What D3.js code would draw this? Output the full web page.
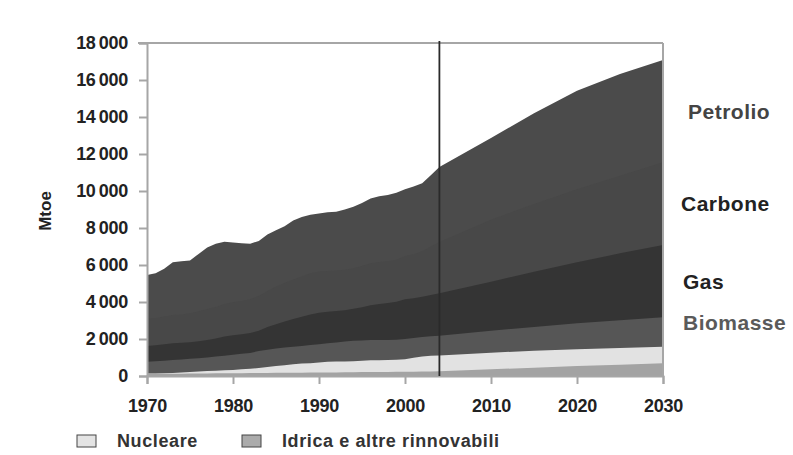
<!DOCTYPE html>
<html><head><meta charset="utf-8">
<script src="https://cdn.jsdelivr.net/npm/d3@7/dist/d3.min.js"></script>
<style>
body{margin:0;background:#fff}
svg{display:block;font-family:"Liberation Sans",Arial,Helvetica,sans-serif}
</style>
</head><body>
<svg id="chart" width="793" height="455"></svg>
<script>
// ---- Data (Mtoe) ----
const years = [1970,1971,1972,1973,1974,1975,1976,1977,1978,1979,
  1980,1981,1982,1983,1984,1985,1986,1987,1988,1989,
  1990,1991,1992,1993,1994,1995,1996,1997,1998,1999,
  2000,2001,2002,2003,2004,2010,2015,2020,2025,2030];
const idrica = [110,113,117,121,127,130,132,136,142,146,
  150,154,158,164,168,172,175,178,182,184,
  188,192,194,200,203,210,214,218,222,226,
  232,234,240,250,260,360,450,540,610,690];
const nucleare = [20,27,33,44,63,90,108,129,148,159,
  180,216,237,266,312,373,410,452,488,506,
  545,575,585,590,597,610,631,632,643,659,
  668,746,820,840,850,900,910,910,910,895];
const biomasse = [645,660,680,695,705,710,720,735,760,795,
  820,830,855,920,940,935,955,950,950,990,
  987,1003,1031,1070,1100,1100,1095,1100,1085,1075,
  1100,1070,1050,1060,1060,1190,1290,1400,1490,1585];
const gas = [845,860,880,910,905,900,920,950,980,1030,
  1050,1060,1070,1100,1230,1320,1410,1500,1580,1650,
  1700,1700,1710,1700,1740,1800,1890,1940,1990,2050,
  2150,2150,2180,2230,2300,2650,2990,3300,3620,3910];
const carbone = [1480,1470,1500,1530,1530,1560,1620,1670,1700,1760,
  1790,1800,1830,1870,1950,2040,2080,2140,2190,2220,
  2230,2200,2180,2180,2190,2220,2260,2270,2260,2280,
  2340,2380,2450,2620,2780,3350,3660,3950,4200,4470];
const petrolio = [2360,2430,2590,2850,2870,2860,3100,3330,3420,3370,
  3230,3110,3000,2980,3050,3040,3070,3180,3210,3170,
  3130,3180,3180,3260,3320,3410,3510,3560,3580,3610,
  3610,3670,3680,3850,4050,4420,4900,5320,5500,5530];

const seriesKeys = ["idrica","nucleare","biomasse","gas","carbone","petrolio"];
const seriesLabels = ["Idrica e altre rinnovabili","Nucleare","Biomasse","Gas","Carbone","Petrolio"];
const yTicks = [0,2000,4000,6000,8000,10000,12000,14000,16000,18000];
const xTicks = [1970,1980,1990,2000,2010,2020,2030];
const markerYear = 2004;
const yAxisTitle = "Mtoe";

// ---- Build ----
const colors = {idrica:"#a3a3a3", nucleare:"#e2e2e2", biomasse:"#565656",
  gas:"#343434", carbone:"#484848", petrolio:"#4b4b4b"};

const table = years.map((yr,i)=>({year:yr, idrica:idrica[i], nucleare:nucleare[i],
  biomasse:biomasse[i], gas:gas[i], carbone:carbone[i], petrolio:petrolio[i]}));
const stacked = d3.stack().keys(seriesKeys)(table);

const svg = d3.select("#chart");
const x = d3.scaleLinear().domain([1970,2030]).range([147,663]);
const y = d3.scaleLinear().domain([0,18000]).range([376,43]);

// painter's order: each layer drawn from the baseline to its stacked top, top layer first (no seams)
const area = d3.area().x(d=>x(d.data.year)).y0(y(0)).y1(d=>y(d[1]));
svg.append("g").selectAll("path").data(stacked.slice().reverse()).join("path")
  .attr("d", area).attr("fill", d=>colors[d.key]);

const locale = d3.formatLocale({decimal:",", thousands:"\u2009", grouping:[3], currency:["","€"]});
const fmt = locale.format(",");

const axisColor = "#a6a6a6";
// Y axis
const yAxis = svg.append("g").attr("transform","translate(147,0)")
  .call(d3.axisLeft(y).tickValues(yTicks).tickSize(8).tickPadding(11).tickFormat(d=>fmt(d)));
yAxis.select(".domain").attr("stroke",axisColor).attr("stroke-width",2);
yAxis.selectAll(".tick line").attr("stroke",axisColor).attr("stroke-width",2);
yAxis.selectAll(".tick text").attr("fill","#222").attr("font-size",18).attr("font-weight","bold")
  .attr("letter-spacing","-0.3px").attr("font-family","'Liberation Sans',Arial,sans-serif");

// X axis
const xAxis = svg.append("g").attr("transform","translate(0,376)")
  .call(d3.axisBottom(x).tickValues(xTicks).tickSize(8).tickPadding(15).tickFormat(d3.format("d")));
xAxis.select(".domain").attr("stroke",axisColor).attr("stroke-width",2);
xAxis.selectAll(".tick line").attr("stroke",axisColor).attr("stroke-width",2);
xAxis.selectAll(".tick text").attr("fill","#222").attr("font-size",18).attr("font-weight","bold")
  .attr("letter-spacing","-0.3px").attr("font-family","'Liberation Sans',Arial,sans-serif");

// frame top / right
svg.append("line").attr("x1",x(1970)-9).attr("x2",x(2030)).attr("y1",y(18000)).attr("y2",y(18000))
  .attr("stroke",axisColor).attr("stroke-width",2);
svg.append("line").attr("x1",x(2030)).attr("x2",x(2030)).attr("y1",y(18000)).attr("y2",y(0))
  .attr("stroke",axisColor).attr("stroke-width",2);

// marker line
svg.append("line").attr("x1",x(markerYear)).attr("x2",x(markerYear)).attr("y1",y(18000)-2).attr("y2",y(0))
  .attr("stroke","#2a2a2a").attr("stroke-width",1.8);

// y title
svg.append("text").attr("transform","translate(51,211) rotate(-90)").attr("text-anchor","middle")
  .attr("font-size",17).attr("font-weight","bold").attr("fill","#222").text(yAxisTitle);

// right labels, at middle of each 2030 layer
const last = years.length-1;
const labelStyle = {
  petrolio:{x:688, dy:0, fill:"#444"},
  carbone:{x:681, dy:0, fill:"#222"},
  gas:{x:683, dy:0, fill:"#222"},
  biomasse:{x:683, dy:-10, fill:"#5a5a5a"}
};
stacked.forEach((s,i)=>{
  const st = labelStyle[s.key];
  if(!st) return;
  const mid = (s[last][0]+s[last][1])/2;
  svg.append("text").attr("x",st.x).attr("y",y(mid)+st.dy).attr("dy","0.36em")
    .attr("font-size",21).attr("font-weight","bold").attr("letter-spacing","0.5px")
    .attr("fill",st.fill).text(seriesLabels[i]);
});

// legend
const legendItems = [{key:"nucleare", label:seriesLabels[1], x:77},
                     {key:"idrica", label:seriesLabels[0], x:242}];
const lg = svg.append("g");
legendItems.forEach(it=>{
  lg.append("rect").attr("x",it.x).attr("y",435).attr("width",19).attr("height",12)
    .attr("fill", it.key==="nucleare" ? "#e4e4e4" : "#ababab").attr("stroke","#444").attr("stroke-width",1);
  lg.append("text").attr("x",it.x+40).attr("y",447).attr("font-size",18).attr("font-weight","bold")
    .attr("letter-spacing","0.6px").attr("fill","#333").text(it.label);
});
</script>
</body></html>
